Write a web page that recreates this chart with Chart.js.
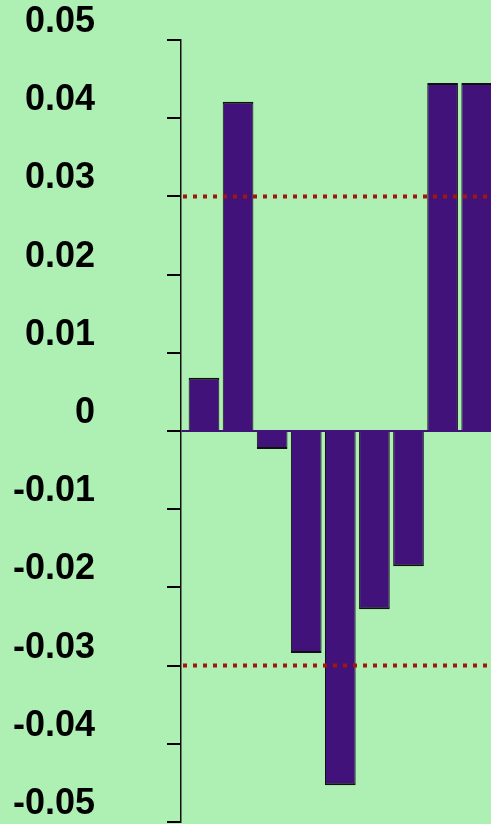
<!DOCTYPE html>
<html>
<head>
<meta charset="utf-8">
<script src="https://cdn.jsdelivr.net/npm/chart.js@4/dist/chart.umd.min.js"></script>
<style>
html,body{margin:0;padding:0;background:#aef0b4;overflow:hidden;}
#wrap{width:491px;height:824px;position:relative;}
</style>
</head>
<body>
<div id="wrap"><canvas id="chart"></canvas></div>
<script>
// bar positions (category index) and values
var categories = [1, 2, 3, 4, 5, 6, 7, 8, 9];
var values = [0.0068, 0.0421, -0.0023, -0.0284, -0.0453, -0.0228, -0.0173, 0.0445, 0.0445];
var yTicks = [-0.05, -0.04, -0.03, -0.02, -0.01, 0, 0.01, 0.02, 0.03, 0.04, 0.05];
var yTickLabels = ['-0.05', '-0.04', '-0.03', '-0.02', '-0.01', '0', '0.01', '0.02', '0.03', '0.04', '0.05'];
var limits = [0.03, -0.03];

var barColor = '#41127a';

// dotted limit lines drawn on top of bars
var limitLines = {
    id: 'limitLines',
    afterDatasetsDraw: function(chart){
        var ctx = chart.ctx, y = chart.scales.y, a = chart.chartArea;
        ctx.save();
        ctx.strokeStyle = '#a3160c';
        ctx.lineWidth = 4;
        ctx.setLineDash([4, 6]);
        limits.forEach(function(v){
            var py = y.getPixelForValue(v);
            ctx.beginPath();
            ctx.moveTo(a.left + 2, py);
            ctx.lineTo(a.right, py);
            ctx.stroke();
        });
        ctx.restore();
    }
};

new Chart(document.getElementById('chart').getContext('2d'), {
    type: 'bar',
    data: {
        labels: categories,
        datasets: [{
            data: values,
            backgroundColor: barColor,
            borderColor: '#111',
            borderSkipped: 'start',
            borderWidth: function(c){
                var v = c.raw;
                return v >= 0 ? {top: 2, left: 1, right: 1, bottom: 0} : {top: 0, left: 1, right: 1, bottom: 2};
            },
            barPercentage: 0.9,
            categoryPercentage: 1
        }]
    },
    options: {
        responsive: true,
        maintainAspectRatio: false,
        animation: false,
        layout: {padding: {top: 40, bottom: 2, left: 0, right: 0}},
        plugins: {legend: {display: false}, tooltip: {enabled: false}},
        scales: {
            x: {
                type: 'linear',
                display: false,
                offset: false,
                min: 0.326,
                max: 9.42
            },
            y: {
                min: -0.05,
                max: 0.05,
                afterBuildTicks: function(s){
                    s.ticks = yTicks.map(function(v){ return {value: v}; });
                },
                afterFit: function(s){
                    s.width = 181;
                    s.paddingTop = 0;
                    s.paddingBottom = 0;
                },
                border: {display: true, color: '#111', width: 1.5},
                grid: {
                    drawOnChartArea: true,
                    color: function(c){ return c.tick && c.tick.value === 0 ? barColor : 'rgba(0,0,0,0)'; },
                    tickColor: '#000',
                    tickLength: 14,
                    lineWidth: 2
                },
                ticks: {
                    padding: 72,
                    labelOffset: -18,
                    color: '#000',
                    font: {family: 'Liberation Sans, Arial, sans-serif', size: 36, weight: 'bold'},
                    callback: function(v){
                        var i = yTicks.indexOf(Math.round(v * 100) / 100);
                        return i >= 0 ? yTickLabels[i] : '';
                    }
                }
            }
        }
    },
    plugins: [limitLines]
});
</script>
</body>
</html>
